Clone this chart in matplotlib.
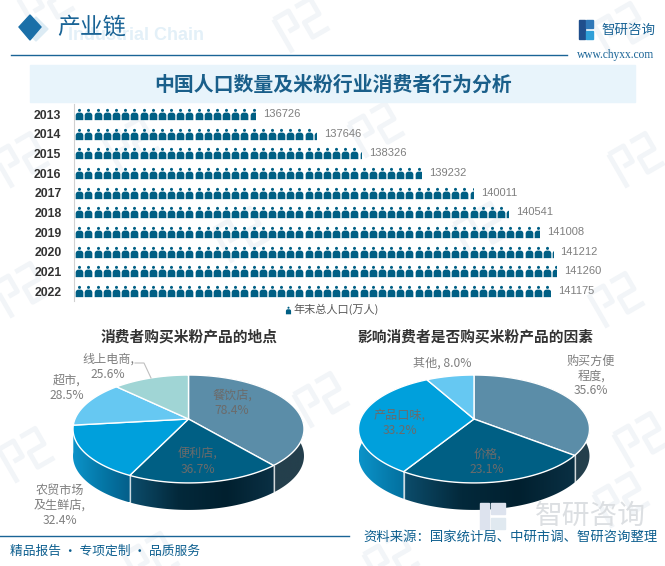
import numpy as np
import matplotlib
matplotlib.use("Agg")
import matplotlib.pyplot as plt
from matplotlib.colors import LinearSegmentedColormap
from matplotlib.lines import Line2D
from matplotlib.patches import Polygon, Rectangle
from matplotlib.path import Path
from matplotlib.transforms import Affine2D

plt.rcParams['font.family'] = ['Noto Sans CJK SC', 'DejaVu Sans']

# population pictogram
years = ['2013', '2014', '2015', '2016', '2017', '2018', '2019', '2020', '2021', '2022']
population = [136726, 137646, 138326, 139232, 140011, 140541, 141008, 141212, 141260, 141175]

# left pie
place_labels = ['餐饮店,\n78.4%', '便利店,\n36.7%', '农贸市场\n及生鲜店,\n32.4%', '超市,\n28.5%', '线上电商,\n25.6%']
place_values = [78.4, 36.7, 32.4, 28.5, 25.6]

# right pie
factor_labels = ['购买方便\n程度,\n35.6%', '价格,\n23.1%', '产品口味,\n33.2%', '其他, 8.0%']
factor_values = [35.6, 23.1, 33.2, 8.0]

BLUE = '#005f84'
TEXT_BLUE = '#0d5f8f'
GREY = '#7f7f7f'
top_colors = ['#5b8da8', '#005f84', '#00a0dc', '#66c8f2', '#a0d5d5']
side_colors = [
    ['#243f4c', '#243f4c'],
    ['#0c4d6c', '#03293b', '#01202f', '#0a3044'],
    ['#0b93c9', '#0578a8', '#045f8a'],
    ['#3f9fc8', '#3f9fc8'],
    ['#6ea5a5', '#6ea5a5'],
]

fig = plt.figure(figsize=(6.65, 5.66), dpi=100)
bg = fig.add_axes([0, 0, 1, 1])
bg.set_xlim(0, 665)
bg.set_ylim(566, 0)
bg.axis('off')


def watermark(x, y):
    # faint company logo repeated over the page
    rot = Affine2D().rotate_deg(-30).translate(x, y)
    strokes = [[(-20, -18), (-20, 20)], [(-20, -18), (-3, -18), (-3, 0), (-13, 0)],
               [(5, -18), (22, -18), (22, 0), (5, 0), (5, 17), (24, 17)]]
    for s in strokes:
        pts = rot.transform(np.array(s, dtype=float))
        bg.plot(pts[:, 0], pts[:, 1], color='#f2f5f8', lw=3.5, solid_capstyle='butt', zorder=0)


for wx, wy in [(45, 5), (300, 25), (620, 30), (20, 160), (130, 145), (375, 130), (635, 160),
               (240, 235), (480, 230), (20, 290), (615, 300), (25, 455), (320, 400), (640, 440),
               (150, 560), (390, 560), (620, 500)]:
    watermark(wx, wy)

# header
bg.add_patch(Polygon([(36, 17), (48, 29), (36, 41), (24, 29)], color='#dcebf4', zorder=1))
bg.add_patch(Polygon([(30, 15), (41, 27), (30, 40), (19, 27)], color='#1a6fa8', zorder=2))
bg.text(68, 35, 'Industrial Chain', fontsize=13, fontweight='bold', color='#e3f0f8',
        family='Liberation Sans', va='center', zorder=1)
bg.text(57, 27, '产业链', fontsize=16.5, color='#1a6496', va='center', zorder=2)
bg.plot([11, 567], [55, 55], color='#1a6496', lw=1)
bg.add_patch(Rectangle((579, 20), 6, 19, color='#1f4e8c'))
bg.add_patch(Rectangle((586, 20), 7, 8, color='#2f78b8'))
bg.add_patch(Rectangle((586, 31), 7, 8, color='#2f9fd8'))
bg.text(601, 30, '智研咨询', fontsize=9.7, color='#1a6496', va='center')
bg.text(616, 55, 'www.chyxx.com', fontsize=8.3, color='#1a6496', family='Liberation Serif',
        ha='center', va='center')

# title band
bg.add_patch(Rectangle((30, 65), 605, 37, color='#e8f4fb', zorder=1))
bg.text(333, 84, '中国人口数量及米粉行业消费者行为分析', fontsize=14.3, fontweight='bold',
        color='#1a5f8a', ha='center', va='center', zorder=2)

# pictogram bars, clipped to each value
PX_PER_UNIT = 0.0664
X_MIN = 134000
left, right, top, bottom = 74, 600, 104.2, 301
ax = fig.add_axes([left / 665, 1 - bottom / 566, (right - left) / 665, (bottom - top) / 566])
ax.patch.set_alpha(0)
ax.set_xlim(X_MIN, X_MIN + (right - left) / PX_PER_UNIT)
ax.set_ylim(9.5, -0.5)

body = [(-0.68, -1), (-0.68, -0.1), (-0.6, 0.12), (-0.42, 0.28), (-0.2, 0.33), (0.2, 0.33),
        (0.42, 0.28), (0.6, 0.12), (0.68, -0.1), (0.68, -1), (-0.68, -1)]
person = Path.make_compound_path(
    Path(np.array([[0.27 * np.cos(a), 0.73 + 0.27 * np.sin(a)] for a in np.linspace(0, 2 * np.pi, 20)])),
    Path(np.array(body, dtype=float)),
)
step = 9.17 / PX_PER_UNIT
centers = X_MIN + (np.arange(60) + 0.58) * step

for i, value in enumerate(population):
    bar = ax.barh(i, value - X_MIN, left=X_MIN, height=1.0, color='none')[0]
    pts = ax.scatter(centers, np.full(60, i), marker=person, s=66, color=BLUE, linewidths=0)
    pts.set_clip_path(bar)
    ax.annotate(str(value), (value, i), xytext=(5.5, 0), textcoords='offset points', va='center',
                fontsize=8, color=GREY, family='Liberation Sans')

ax.set_yticks(range(len(years)))
ax.set_yticklabels(years, fontsize=8.8, fontweight='bold', color='#333333', family='Liberation Sans')
ax.tick_params(axis='y', length=0, pad=9)
ax.set_xticks([])
for name in ['top', 'right', 'bottom']:
    ax.spines[name].set_visible(False)
ax.spines['left'].set_color('#d0d0d0')

bg.scatter([288], [310], marker=person, s=30, color=BLUE, linewidths=0, zorder=3)
bg.text(293, 309.5, '年末总人口(万人)', fontsize=8, color='#595959', va='center', zorder=3)


def project(theta, cx, cy):
    # circle seen in perspective, theta clockwise from the top
    u, v = np.sin(theta), np.cos(theta)
    w = 1 + 0.185 * v
    return cx + 113.5 * u / w, cy - 52.1 * v / w


def pie3d(values, cx, cy, depth=27):
    fracs = np.array(values) / sum(values)
    edges = np.concatenate([[0], np.cumsum(fracs)]) * 2 * np.pi
    arcs = [np.linspace(edges[i], edges[i + 1], 80) for i in range(len(values))]
    # side walls first, the top faces cover whatever is behind
    for i, t in enumerate(arcs):
        x, y = project(t, cx, cy)
        wall = np.column_stack([np.r_[x, x[::-1]], np.r_[y, y[::-1] + depth]])
        if x.max() < cx - 60 or y.max() < cy + 8:
            continue
        cmap = LinearSegmentedColormap.from_list('side', side_colors[i])
        img = bg.imshow(np.linspace(0, 1, 256).reshape(1, -1), cmap=cmap, aspect='auto',
                        extent=(x.min(), x.max(), y.max() + depth, y.min()), zorder=3)
        img.set_clip_path(Polygon(wall, transform=bg.transData))
    for i, t in enumerate(arcs):
        x, y = project(t, cx, cy)
        face = np.column_stack([np.r_[cx, x], np.r_[cy, y]])
        bg.add_patch(Polygon(face, closed=True, facecolor=top_colors[i], edgecolor='white',
                             lw=1, joinstyle='round', zorder=4))
    # seams on the wall
    for e in edges[1:-1]:
        x, y = project(e, cx, cy)
        if y > cy + 20:
            bg.plot([x, x], [y, y + depth], color='white', lw=0.9, alpha=0.8, zorder=4)


pie3d(place_values, 188.5, 419)
pie3d(factor_values, 474, 419)
bg.set_xlim(0, 665)
bg.set_ylim(566, 0)

bg.text(189, 336, '消费者购买米粉产品的地点', fontsize=10.6, fontweight='bold', color='#333333',
        ha='center', va='center', zorder=5)
bg.text(475, 336, '影响消费者是否购买米粉产品的因素', fontsize=10.6, fontweight='bold', color='#333333',
        ha='center', va='center', zorder=5)

label_kw = dict(fontsize=8.7, ha='center', va='center', linespacing=1.2, zorder=5)
for label, (lx, ly), col in zip(place_labels,
                                [(232, 403), (198, 462), (60, 505), (67, 388), (108, 367)],
                                ['#6b6b6b', '#6b6b6b', GREY, GREY, GREY]):
    bg.text(lx, ly, label, color=col, **label_kw)
bg.plot([135, 144, 151], [363, 363, 378], color='#bfbfbf', lw=0.8, zorder=5)
for label, (lx, ly), col in zip(factor_labels,
                                [(591, 376), (487, 462), (400, 423), (442, 363)],
                                [GREY, '#6b6b6b', '#6b6b6b', GREY]):
    bg.text(lx, ly, label, color=col, **label_kw)

# footer
bg.text(590, 516, '智研咨询', fontsize=20, color='#dcdfe2', ha='center', va='center', zorder=5)
bg.add_patch(Rectangle((480, 503), 9, 26, color='#dde3ee', zorder=5))
bg.add_patch(Rectangle((491, 503), 14, 11, color='#dde3ee', zorder=5))
bg.add_patch(Rectangle((491, 518), 14, 11, color='#e0e9f0', zorder=5))
bg.add_artist(Line2D([0, 349], [536, 536], color='#1a6496', lw=1, zorder=5))
bg.text(510, 537, '资料来源：国家统计局、中研市调、智研咨询整理', fontsize=9.6, color=TEXT_BLUE,
        ha='center', va='center', zorder=6)
bg.text(105, 551, '精品报告 · 专项定制 · 品质服务', fontsize=9.2, color=TEXT_BLUE,
        ha='center', va='center', zorder=6)

fig.savefig('out.png', dpi=100)
